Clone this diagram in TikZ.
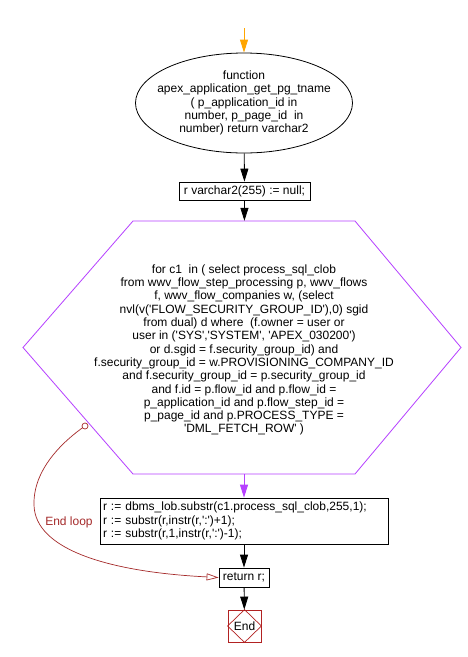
\documentclass[tikz,border=0pt]{standalone}
\usepackage{fontspec}
\setmainfont{Liberation Sans}[Ligatures=TeXOff]
\usetikzlibrary{shapes.geometric,arrows.meta}
\definecolor{hexpurple}{RGB}{182,64,255}
\definecolor{loopbrown}{RGB}{165,42,42}
\definecolor{endred}{RGB}{178,34,34}
\definecolor{startorange}{RGB}{255,165,0}
\tikzset{
  x=1pt,y=-1pt,
  every node/.style={font=\fontsize{12}{13.3}\selectfont},
  boxnode/.style={draw=black,rectangle,inner sep=0pt,line width=0.8pt},
  arr/.style={draw=black,line width=0.8pt,-{Triangle[length=13pt,width=8pt]}},
  parr/.style={draw=hexpurple,line width=0.8pt,-{Triangle[length=13pt,width=8pt]}},
  oarr/.style={draw=startorange,line width=0.8pt,-{Triangle[length=13pt,width=8pt]}},
  looparr/.style={draw=loopbrown,line width=0.7pt,-{Triangle[open,length=12pt,width=7pt]}},
}
\begin{document}
\begin{tikzpicture}
\useasboundingbox (0,0) rectangle (468,657);
\fill[white] (0,0) rectangle (468,657);

\coordinate (s) at (244,28);
\node[draw=black,ellipse,line width=0.8pt,minimum width=217pt,minimum height=100pt,inner xsep=-12pt,inner ysep=2pt,align=center] (func) at (244,103)
  {function\\apex\_application\_get\_pg\_tname\\( p\_application\_id in\\number, p\_page\_id\ \ in\\number) return varchar2};

\node[boxnode,minimum width=131pt,minimum height=18pt] (init) at (244.5,191) {r varchar2(255) := null;};

\draw[hexpurple,line width=0.8pt] (133,221) -- (355,221) -- (461,347.5) -- (355,474) -- (133,474) -- (23,347.5) -- cycle;
\node[rectangle,draw=none,minimum width=438pt,minimum height=253pt,inner sep=0pt] (loop) at (244,347.5) {};
\node[align=center,inner sep=0pt] (looptext) at (244,350)
  {for c1\ \ in ( select process\_sql\_clob\\from wwv\_flow\_step\_processing p, wwv\_flows\\f, wwv\_flow\_companies w, (select\\nvl(v('FLOW\_SECURITY\_GROUP\_ID'),0) sgid\\from dual) d where\ \ (f.owner = user or\\user in ('SYS','SYSTEM', 'APEX\_030200')\\or d.sgid = f.security\_group\_id) and\\f.security\_group\_id = w.PROVISIONING\_COMPANY\_ID\\and f.security\_group\_id = p.security\_group\_id\\and f.id = p.flow\_id and p.flow\_id =\\p\_application\_id and p.flow\_step\_id =\\p\_page\_id and p.PROCESS\_TYPE =\\'DML\_FETCH\_ROW' )};

\node[boxnode,minimum width=288pt,minimum height=46pt,text width=282pt,inner xsep=3pt,align=left] (body) at (244,521)
  {r := dbms\_lob.substr(c1.process\_sql\_clob,255,1);\\r := substr(r,instr(r,':')+1);\\r := substr(r,1,instr(r,':')-1);};

\node[boxnode,minimum width=50pt,minimum height=19pt] (ret) at (244,577.5) {return r;};

\node[draw=endred,rectangle,line width=0.8pt,minimum width=33pt,minimum height=32pt,inner sep=0pt] (end) at (244.5,626) {End};
\draw[endred,line width=0.7pt] (end.north) -- (end.east) -- (end.south) -- (end.west) -- cycle;

\draw[oarr] (s) -- (func);
\draw[arr] (func) -- (init);
\draw[arr] (init) -- (loop);
\draw[parr] (loop) -- (body);
\draw[arr] (body) -- (ret);
\draw[arr] (ret) -- (end);

\coordinate (circ) at (85,426);
\coordinate (bend) at (34,505);
\draw[looparr] (circ) .. controls (62,442) and (33,470) .. (bend) .. controls (35,550) and (110,572) .. (ret.west);
\draw[loopbrown,line width=0.7pt,fill=white] (circ) circle (3pt);
\node[text=loopbrown] (endloop) at (69,522) {End loop};
\end{tikzpicture}
\end{document}
